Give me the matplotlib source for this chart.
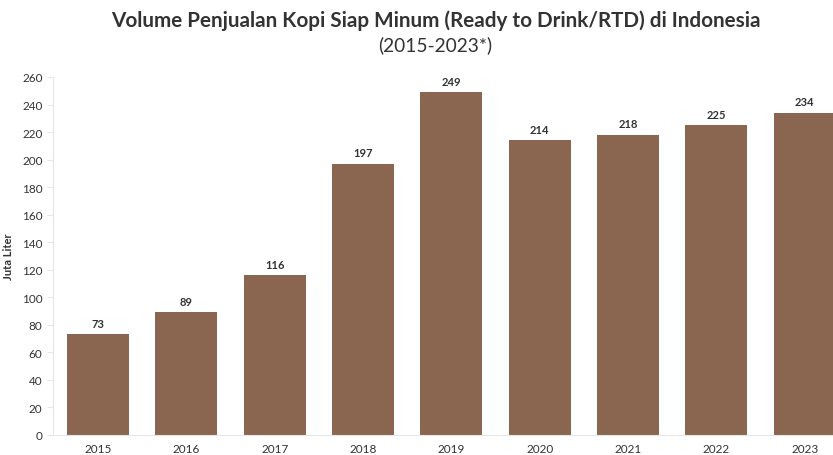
import matplotlib

matplotlib.use("Agg")

import matplotlib.pyplot as plt

plt.rcParams["font.family"] = ["Lato", "DejaVu Sans"]

years = ["2015", "2016", "2017", "2018", "2019", "2020", "2021", "2022", "2023"]
volume = [73, 89, 116, 197, 249, 214, 218, 225, 234]
y_ticks = list(range(0, 261, 20))

BAR_COLOR = "#8a6550"
TEXT_COLOR = "#333333"

fig = plt.figure(figsize=(8.33, 4.56), dpi=100)
ax = fig.add_axes([0.0636, 0.044, 0.9364, 0.785])

x = range(len(years))
bars = ax.bar(x, volume, width=0.70, color=BAR_COLOR, zorder=2)

for rect, v in zip(bars, volume):
    ax.annotate(str(v), (rect.get_x() + rect.get_width() / 2, v),
                xytext=(0, 4), textcoords="offset points",
                ha="center", va="bottom", fontsize=8, fontweight="bold",
                color=TEXT_COLOR)

ax.set_xlim(-0.51, 8.32)
ax.set_ylim(0, 260)
ax.set_xticks(list(x))
ax.set_xticklabels(years)
ax.set_yticks(y_ticks)
ax.tick_params(axis="both", labelsize=8.5, colors=TEXT_COLOR, length=4,
               color="#e6e6e6")
ax.tick_params(axis="x", length=0, pad=6)

for side in ("top", "right"):
    ax.spines[side].set_visible(False)
ax.spines["left"].set_color("#e6e6e6")
ax.spines["bottom"].set_color("#e6e6e6")

ax.set_ylabel("Juta Liter", fontsize=8, fontweight="bold", color=TEXT_COLOR,
              labelpad=6)

fig.text(0.523, 0.955, "Volume Penjualan Kopi Siap Minum (Ready to Drink/RTD) di Indonesia",
         ha="center", va="center", fontsize=14.9, fontweight="bold", color=TEXT_COLOR)
fig.text(0.523, 0.9, "(2015-2023*)", ha="center", va="center", fontsize=13.8,
         color=TEXT_COLOR)

fig.savefig("out.png", dpi=100)
